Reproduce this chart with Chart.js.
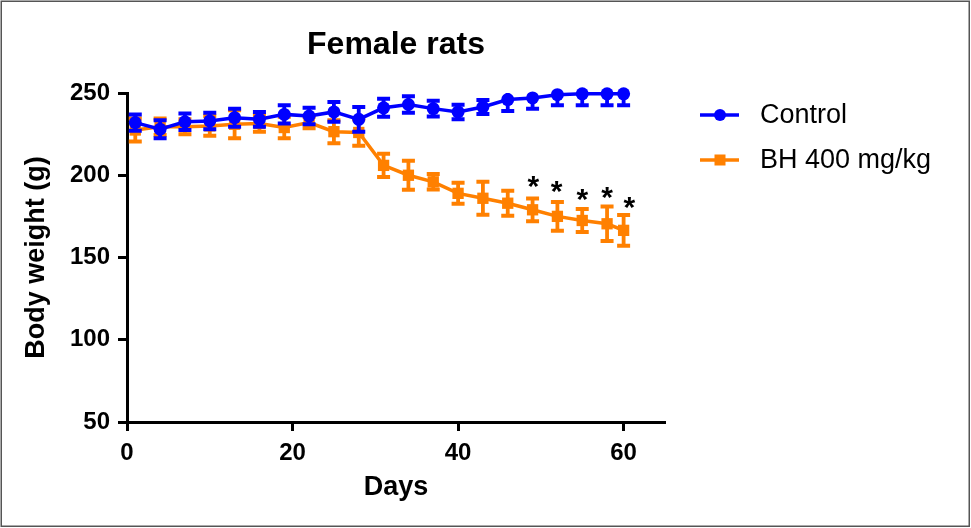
<!DOCTYPE html>
<html><head><meta charset="utf-8">
<script src="https://cdn.jsdelivr.net/npm/chart.js@4.4.1/dist/chart.umd.min.js"></script>
<style>
html,body{margin:0;padding:0;background:#fff;}
#wrap{position:relative;width:971px;height:528px;}
canvas{display:block;}
</style>
</head><body>
<div id="wrap"><canvas id="c" width="971" height="528"></canvas></div>
<script>
// ---- data ----
const days = [1, 4, 7, 10, 13, 16, 19, 22, 25, 28, 31, 34, 37, 40, 43, 46, 49, 52, 55, 58, 60];
const controlMean = [232, 228, 232.5, 233, 235, 234, 237, 236, 238.5, 234, 241, 243, 240.5, 238.5, 241.5, 246, 247, 249, 249.5, 249.5, 249.5];
const controlSem  = [5, 5.5, 5, 5, 5.5, 4.5, 5.5, 5, 6, 7.5, 5.5, 5, 4.8, 4.4, 4.3, 7, 6.5, 6.5, 7, 7, 7];
const bhMean = [227.5, 229.5, 229.5, 230, 231, 231.5, 229, 232, 226.5, 226, 206, 200, 196, 189, 186, 183, 179, 175, 172.5, 170.5, 166.5];
const bhSem  = [7, 5, 4.6, 6, 8.5, 5, 6.5, 3.5, 7, 8, 7, 8.8, 4.7, 6.4, 10, 7.6, 6.9, 8.7, 7, 10.5, 9.3];
const seriesLabels = ['Control', 'BH 400 mg/kg'];
const sigDays = [49.1, 51.9, 55.0, 58.0, 60.7];
const sigY = [198, 195, 190, 191, 185];
const yTicks = [50, 100, 150, 200, 250];
const xTicks = [0, 20, 40, 60];

const FONT = '"Liberation Sans", Arial, Helvetica, sans-serif';
const BLUE = '#0000ff';
const ORANGE = '#ff8000';

const errorBarPlugin = {
  id: 'errorBars',
  beforeDatasetDraw(chart, args) {
    const ds = chart.data.datasets[args.index];
    const sem = ds.sem;
    if (!sem) return;
    const {ctx, chartArea, scales} = chart;
    const x = scales.x, y = scales.y;
    ctx.save();
    ctx.beginPath();
    ctx.rect(chartArea.left - 20, chartArea.top, chartArea.right - chartArea.left + 40, chartArea.bottom - chartArea.top + 20);
    ctx.clip();
    ctx.strokeStyle = ds.borderColor;
    ctx.lineCap = 'butt';
    ds.data.forEach((p, i) => {
      const px = x.getPixelForValue(p.x);
      const top = y.getPixelForValue(p.y + sem[i]);
      const bot = y.getPixelForValue(p.y - sem[i]);
      ctx.lineWidth = 3.8;
      ctx.beginPath();
      ctx.moveTo(px, top); ctx.lineTo(px, bot);
      ctx.stroke();
      ctx.lineWidth = 4;
      ctx.beginPath();
      ctx.moveTo(px - 6.5, top); ctx.lineTo(px + 6.5, top);
      ctx.moveTo(px - 6.5, bot); ctx.lineTo(px + 6.5, bot);
      ctx.stroke();
    });
    ctx.restore();
  }
};

const extrasPlugin = {
  id: 'extras',
  afterDraw(chart) {
    const {ctx, scales} = chart;
    // significance asterisks
    ctx.save();
    ctx.fillStyle = '#000';
    ctx.font = 'bold 30px ' + FONT;
    ctx.textAlign = 'center';
    ctx.textBaseline = 'alphabetic';
    sigDays.forEach((d, i) => {
      const px = scales.x.getPixelForValue(d);
      const py = scales.y.getPixelForValue(sigY[i]);
      ctx.fillText('*', px, py + 0.58 * 30);
    });
    ctx.restore();

    // legend
    ctx.save();
    const rows = [115, 160];
    chart.data.datasets.forEach((ds, i) => {
      const ly = rows[i];
      ctx.strokeStyle = ds.borderColor;
      ctx.fillStyle = ds.borderColor;
      ctx.lineWidth = 3.5;
      ctx.beginPath();
      ctx.moveTo(700, ly); ctx.lineTo(739, ly);
      ctx.stroke();
      if (ds.pointStyle === 'circle') {
        ctx.beginPath(); ctx.arc(720, ly, 6, 0, Math.PI * 2); ctx.fill();
      } else {
        ctx.fillRect(714.5, ly - 5.5, 11, 11);
      }
      ctx.fillStyle = '#000';
      ctx.font = '27px ' + FONT;
      ctx.textAlign = 'left';
      ctx.textBaseline = 'middle';
      ctx.fillText(ds.label, 760, ly + 1);
    });
    ctx.restore();

    // frame
    ctx.save();
    ctx.strokeStyle = '#555';
    ctx.lineWidth = 1.5;
    ctx.strokeRect(1.25, 1.25, 968, 525);
    ctx.restore();
  }
};

new Chart(document.getElementById('c'), {
  type: 'line',
  data: {
    datasets: [
      {
        label: seriesLabels[0],
        data: days.map((d, i) => ({x: d, y: controlMean[i]})),
        sem: controlSem,
        borderColor: BLUE, backgroundColor: BLUE,
        borderWidth: 3.5, pointStyle: 'circle', pointRadius: 6.5, pointBorderWidth: 0,
        pointHoverRadius: 6.5, tension: 0, clip: false
      },
      {
        label: seriesLabels[1],
        data: days.map((d, i) => ({x: d, y: bhMean[i]})),
        sem: bhSem,
        borderColor: ORANGE, backgroundColor: ORANGE,
        borderWidth: 3.5, pointStyle: 'rect', pointRadius: 8, pointBorderWidth: 0,
        pointHoverRadius: 8, tension: 0, clip: false
      }
    ]
  },
  options: {
    responsive: false,
    animation: false,
    devicePixelRatio: 1,
    layout: { padding: { left: 0, right: 306, top: 0, bottom: 0 } },
    plugins: {
      legend: { display: false },
      tooltip: { enabled: false },
      title: {
        display: true, text: 'Female rats', color: '#000', fullSize: false,
        font: { family: FONT, size: 32, weight: 'bold' },
        padding: { top: 26, bottom: 28.6 }
      }
    },
    scales: {
      x: {
        type: 'linear', min: 0, max: 65,
        afterBuildTicks: s => { s.ticks = xTicks.map(v => ({value: v})); },
        afterFit: s => { s.height = 106; },
        grid: { display: true, drawOnChartArea: false, drawTicks: true, tickLength: 9, tickWidth: 3, tickColor: '#000' },
        border: { display: true, color: '#000', width: 3 },
        ticks: { includeBounds: false, padding: 8, color: '#000', font: { family: FONT, size: 24, weight: 'bold' } },
        title: { display: true, text: 'Days', color: '#000', font: { family: FONT, size: 27, weight: 'bold' }, padding: { top: 0, bottom: 24 } }
      },
      y: {
        type: 'linear', min: 50, max: 250,
        afterBuildTicks: s => { s.ticks = yTicks.map(v => ({value: v})); },
        afterFit: s => { s.width = 127; },
        grid: { display: true, drawOnChartArea: false, drawTicks: true, tickLength: 9, tickWidth: 3, tickColor: '#000' },
        border: { display: true, color: '#000', width: 3 },
        ticks: { includeBounds: false, padding: 8, color: '#000', font: { family: FONT, size: 24, weight: 'bold' } },
        title: { display: true, text: 'Body weight (g)', color: '#000', font: { family: FONT, size: 27, weight: 'bold' }, padding: { top: 20, bottom: 0 } }
      }
    }
  },
  plugins: [errorBarPlugin, extrasPlugin]
});
</script>
</body></html>
